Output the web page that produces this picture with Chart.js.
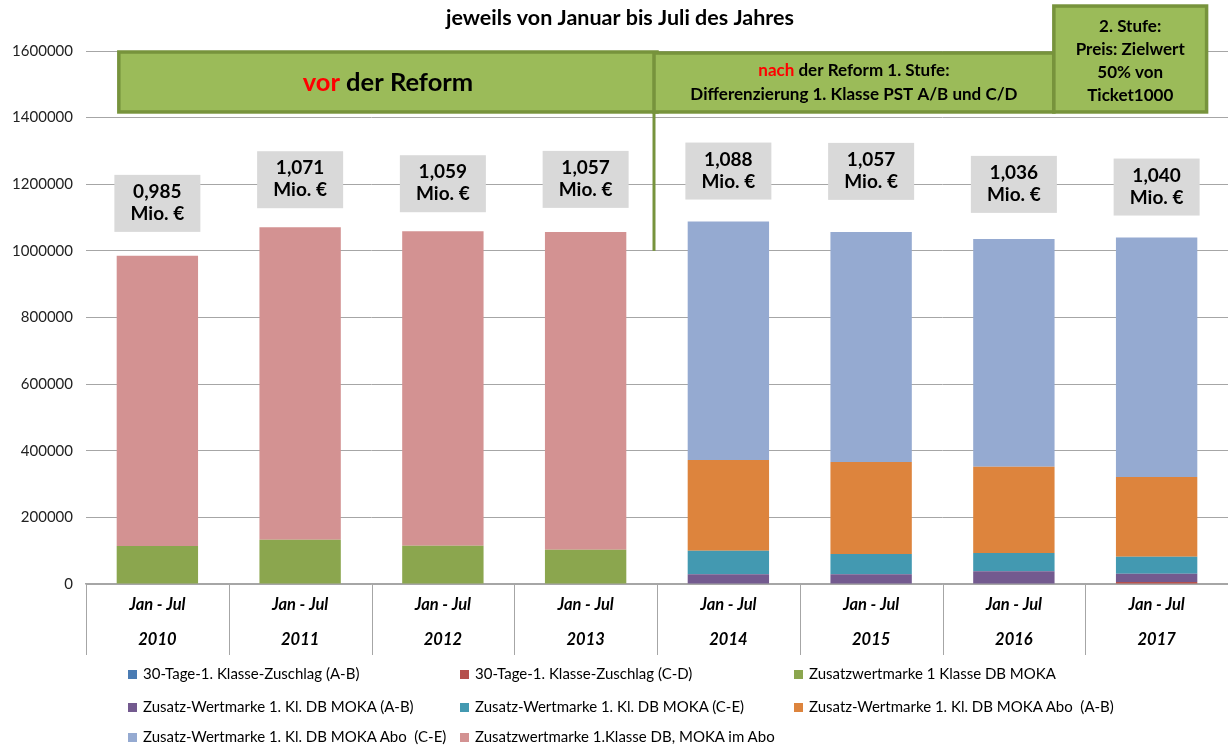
<!DOCTYPE html>
<html lang="de">
<head>
<meta charset="UTF-8">
<title>1. Klasse Zusatzwertmarken Jan - Jul</title>
<script src="https://cdn.jsdelivr.net/npm/chart.js@4.4.0/dist/chart.umd.min.js"></script>
<style>
  body { margin: 0; background: #fff; }
  #wrap { position: relative; width: 1228px; height: 747px; }
  .item { position: absolute; font: 15px Lato, sans-serif; color: #000; white-space: nowrap; line-height: 16px; transform: translateY(-50%); }
  .item span { display: inline-block; width: 9px; height: 9px; margin-right: 6px; vertical-align: 0px; }
</style>
</head>
<body>
<div id="wrap">
  <canvas id="chart" width="1228" height="747"></canvas>
  <div id="legend"></div>
</div>
<script>
// values
const period = 'Jan - Jul';
const years = ['2010', '2011', '2012', '2013', '2014', '2015', '2016', '2017'];
const totalLabels = ['0,985', '1,071', '1,059', '1,057', '1,088', '1,057', '1,036', '1,040'];

const tageAB   = [0, 0, 0, 0, 0, 0, 0, 0];
const tageCD   = [0, 0, 0, 0, 0, 0, 0, 6000];
const zwmMoka  = [114000, 133000, 115000, 103000, 0, 0, 0, 0];
const zwmAB    = [0, 0, 0, 0, 29000, 29000, 38000, 25000];
const zwmCE    = [0, 0, 0, 0, 71000, 61000, 55000, 51000];
const aboAB    = [0, 0, 0, 0, 272000, 276000, 259000, 239000];
const aboCE    = [0, 0, 0, 0, 716000, 691000, 684000, 719000];
const imAbo    = [871000, 938000, 944000, 954000, 0, 0, 0, 0];

const seriesNames = [
  '30-Tage-1. Klasse-Zuschlag (A-B)',
  '30-Tage-1. Klasse-Zuschlag (C-D)',
  'Zusatzwertmarke 1 Klasse DB MOKA',
  'Zusatz-Wertmarke 1. Kl. DB MOKA (A-B)',
  'Zusatz-Wertmarke 1. Kl. DB MOKA (C-E)',
  'Zusatz-Wertmarke 1. Kl. DB MOKA Abo  (A-B)',
  'Zusatz-Wertmarke 1. Kl. DB MOKA Abo  (C-E)',
  'Zusatzwertmarke 1.Klasse DB, MOKA im Abo'
];
const seriesValues = [tageAB, tageCD, zwmMoka, zwmAB, zwmCE, aboAB, aboCE, imAbo];
const barColors = ['#4A7BB3', '#B5504D', '#8BA64E', '#735A8F', '#4399B1', '#DD843D', '#95AAD1', '#D39292'];

const title = 'jeweils von Januar bis Juli des Jahres';
const yTicks = [0, 200000, 400000, 600000, 800000, 1000000, 1200000, 1400000, 1600000];

// gap between bar top and its grey label box (px)
const labelGap = [24, 19, 19, 24, 22, 32, 26, 22];

const FONT = 'Lato, "Open Sans", sans-serif';
const boxFill = '#9BBB59';
const boxLine = '#77933C';

function drawMixed(ctx, parts, cx, cy) {
  let w = 0;
  parts.forEach(p => { w += ctx.measureText(p[0]).width; });
  let x = cx - w / 2;
  ctx.textAlign = 'left';
  parts.forEach(p => {
    ctx.fillStyle = p[1];
    ctx.fillText(p[0], x, cy);
    x += ctx.measureText(p[0]).width;
  });
}

function drawBox(ctx, x0, y0, x1, y1, font, lines) {
  ctx.fillStyle = boxFill;
  ctx.fillRect(x0, y0, x1 - x0, y1 - y0);
  ctx.strokeStyle = boxLine;
  ctx.lineWidth = 3.5;
  ctx.strokeRect(x0, y0, x1 - x0, y1 - y0);
  ctx.font = font;
  ctx.textBaseline = 'middle';
  lines.forEach(l => drawMixed(ctx, l.parts, (x0 + x1) / 2, l.y));
}

const annotations = {
  id: 'annotations',
  afterDraw(chart) {
    const { ctx, scales: { x, y } } = chart;
    ctx.save();

    // title
    ctx.fillStyle = '#000';
    ctx.font = 'bold 21.5px ' + FONT;
    ctx.textAlign = 'center';
    ctx.textBaseline = 'middle';
    ctx.fillText(title, 620, 18);

    // category dividers below the axis
    ctx.strokeStyle = '#A6A6A6';
    ctx.lineWidth = 1;
    for (let i = 0; i <= years.length; i++) {
      const px = Math.round(x.getPixelForValue(i - 0.5)) + 0.5;
      ctx.beginPath();
      ctx.moveTo(px, y.bottom);
      ctx.lineTo(px, y.bottom + 71);
      ctx.stroke();
    }

    // grey total labels
    years.forEach((yr, i) => {
      let total = 0;
      seriesValues.forEach(s => { total += s[i]; });
      const cx = x.getPixelForValue(i);
      const bottom = y.getPixelForValue(total) - labelGap[i];
      const top = bottom - 57;
      ctx.fillStyle = '#D9D9D9';
      ctx.fillRect(cx - 43, top, 86, 57);
      ctx.fillStyle = '#000';
      ctx.font = 'bold 19px ' + FONT;
      ctx.textAlign = 'center';
      ctx.textBaseline = 'middle';
      ctx.fillText(totalLabels[i], cx, top + 17);
      ctx.fillText('Mio. €', cx, top + 39);
    });

    // connector line
    const lx = x.getPixelForValue(3.5) - 3;
    ctx.strokeStyle = boxLine;
    ctx.lineWidth = 3;
    ctx.beginPath();
    ctx.moveTo(lx, y.getPixelForValue(1420000));
    ctx.lineTo(lx, y.getPixelForValue(1000000));
    ctx.stroke();

    const yTop = y.getPixelForValue(1600000);
    const yBot = y.getPixelForValue(1417000);

    drawBox(ctx, x.getPixelForValue(-0.27), yTop + 1, x.getPixelForValue(3.5), yBot,
      'bold 25.5px ' + FONT,
      [{ y: 83, parts: [['vor', '#FF0000'], [' der Reform', '#000']] }]);

    drawBox(ctx, lx, yTop + 2, x.getPixelForValue(6.28), yBot,
      'bold 17px ' + FONT,
      [{ y: 71, parts: [['nach', '#FF0000'], [' der Reform 1. Stufe:', '#000']] },
       { y: 95, parts: [['Differenzierung 1. Klasse PST A/B und C/D', '#000']] }]);

    drawBox(ctx, x.getPixelForValue(6.28), y.getPixelForValue(1735000), x.getPixelForValue(7.35), yBot,
      'bold 17px ' + FONT,
      [{ y: 27, parts: [['2. Stufe:', '#000']] },
       { y: 50, parts: [['Preis: Zielwert', '#000']] },
       { y: 73, parts: [['50% von', '#000']] },
       { y: 96, parts: [['Ticket1000', '#000']] }]);

    ctx.restore();
  }
};

const datasets = seriesNames.map((name, i) => ({
  label: name,
  data: seriesValues[i],
  backgroundColor: barColors[i],
  borderWidth: 0,
  barPercentage: 0.57,
  categoryPercentage: 1
}));

new Chart(document.getElementById('chart'), {
  type: 'bar',
  data: { labels: years.map(yr => [period, yr]), datasets },
  options: {
    responsive: false,
    animation: false,
    layout: { padding: { top: 51, left: 0, right: 0, bottom: 0 } },
    plugins: { legend: { display: false }, tooltip: { enabled: false } },
    scales: {
      x: {
        stacked: true,
        grid: { display: false },
        border: { display: true, color: '#A6A6A6', width: 1.5 },
        ticks: {
          color: '#000',
          padding: -4.5,
          maxRotation: 0,
          autoSkip: false,
          font: { family: FONT, size: 16.5, weight: 'bold', style: 'italic', lineHeight: 2.12 }
        },
        afterFit(s) { s.height = 163; }
      },
      y: {
        stacked: true,
        min: 0,
        max: 1600000,
        afterBuildTicks(s) { s.ticks = yTicks.map(v => ({ value: v })); },
        ticks: {
          color: '#222',
          padding: 13,
          font: { family: FONT, size: 15 },
          callback: v => String(v)
        },
        grid: { color: '#A6A6A6', drawTicks: false },
        border: { display: false },
        afterFit(s) { s.width = 86; }
      }
    }
  },
  plugins: [annotations]
});

// legend in three columns
const legendCols = [128, 460, 794];
const legendRows = [673, 706, 736];
const legend = document.getElementById('legend');
seriesNames.forEach((name, i) => {
  const d = document.createElement('div');
  d.className = 'item';
  d.style.left = legendCols[i % 3] + 'px';
  d.style.top = legendRows[Math.floor(i / 3)] + 'px';
  d.innerHTML = '<span style="background:' + barColors[i] + '"></span>' + name.replace(/  /g, ' &nbsp;');
  legend.appendChild(d);
});
</script>
</body>
</html>
